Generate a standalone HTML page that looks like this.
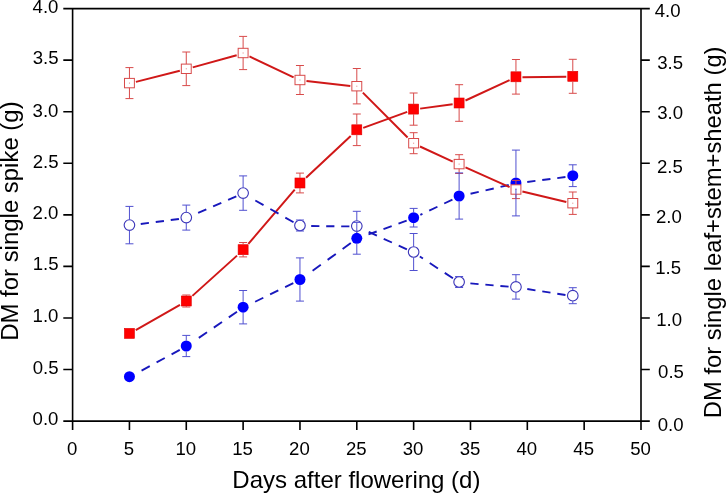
<!DOCTYPE html><html><head><meta charset="utf-8"><style>html,body{margin:0;padding:0;background:#fff;}svg{display:block;will-change:transform;}text{font-family:"Liberation Sans",sans-serif;fill:#000;}</style></head><body>
<svg width="726" height="493" viewBox="0 0 726 493">
<rect width="726" height="493" fill="#fff"/>
<g stroke="#000" stroke-width="1.6" fill="none" stroke-linecap="butt">
<path d="M63.30 8.6H649.80"/>
<path d="M72.6 8.6V430.1"/>
<path d="M641.0 8.6V430.1"/>
<path d="M63.30 421.1H649.80"/>
<path d="M63.30 369.54H72.6M641.0 369.54H649.80M63.30 317.98H72.6M641.0 317.98H649.80M63.30 266.41H72.6M641.0 266.41H649.80M63.30 214.85H72.6M641.0 214.85H649.80M63.30 163.29H72.6M641.0 163.29H649.80M63.30 111.73H72.6M641.0 111.73H649.80M63.30 60.16H72.6M641.0 60.16H649.80M129.44 421.1V430.1M186.28 421.1V430.1M243.12 421.1V430.1M299.96 421.1V430.1M356.80 421.1V430.1M413.64 421.1V430.1M470.48 421.1V430.1M527.32 421.1V430.1M584.16 421.1V430.1"/>
</g>
<g font-size="18.6">
<text x="32.57" y="425.25">0.0</text>
<text x="657.67" y="431.25">0.0</text>
<text x="32.63" y="373.55">0.5</text>
<text x="658.10" y="378.05">0.5</text>
<text x="32.57" y="321.90">1.0</text>
<text x="656.23" y="326.05">1.0</text>
<text x="32.63" y="270.21">1.5</text>
<text x="655.21" y="273.71">1.5</text>
<text x="32.57" y="219.35">2.0</text>
<text x="655.97" y="223.30">2.0</text>
<text x="32.63" y="167.70">2.5</text>
<text x="657.00" y="173.00">2.5</text>
<text x="32.57" y="116.50">3.0</text>
<text x="657.18" y="119.20">3.0</text>
<text x="32.63" y="64.35">3.5</text>
<text x="657.21" y="68.90">3.5</text>
<text x="32.57" y="12.70">4.0</text>
<text x="654.72" y="16.50">4.0</text>
<text x="72.10" y="454.8" text-anchor="middle">0</text>
<text x="128.94" y="454.8" text-anchor="middle">5</text>
<text x="185.78" y="454.8" text-anchor="middle">10</text>
<text x="242.62" y="454.8" text-anchor="middle">15</text>
<text x="299.46" y="454.8" text-anchor="middle">20</text>
<text x="356.30" y="454.8" text-anchor="middle">25</text>
<text x="413.14" y="454.8" text-anchor="middle">30</text>
<text x="469.98" y="454.8" text-anchor="middle">35</text>
<text x="526.82" y="454.8" text-anchor="middle">40</text>
<text x="583.66" y="454.8" text-anchor="middle">45</text>
<text x="640.50" y="454.8" text-anchor="middle">50</text>
</g>
<text x="356.4" y="487.5" font-size="24" text-anchor="middle">Days after flowering (d)</text>
<text transform="translate(17.5 221.1) rotate(-90)" x="0" y="0" font-size="23.95" text-anchor="middle">DM for single spike (g)</text>
<text transform="translate(720.5 232.3) rotate(-90)" x="0" y="0" font-size="23.8" text-anchor="middle">DM for single leaf+stem+sheath (g)</text>
<path d="M135.74 330.21L179.98 304.99M192.39 295.88L237.01 255.62M248.35 243.96L294.73 189.54M306.06 177.70L350.70 135.90M363.21 127.87L407.23 111.83M420.13 108.63L452.63 104.27M465.47 100.47L509.59 80.13M522.45 77.14L566.29 76.76" stroke="#d01818" stroke-width="2" fill="none"/>
<rect x="124.44" y="328.40" width="10" height="10" fill="#ff0000" stroke="#e00000" stroke-width="0.6"/><rect x="181.28" y="296.00" width="10" height="10" fill="#ff0000" stroke="#e00000" stroke-width="0.6"/><rect x="238.12" y="244.70" width="10" height="10" fill="#ff0000" stroke="#e00000" stroke-width="0.6"/><rect x="294.96" y="178.00" width="10" height="10" fill="#ff0000" stroke="#e00000" stroke-width="0.6"/><rect x="351.80" y="124.80" width="10" height="10" fill="#ff0000" stroke="#e00000" stroke-width="0.6"/><rect x="408.64" y="104.10" width="10" height="10" fill="#ff0000" stroke="#e00000" stroke-width="0.6"/><rect x="454.11" y="98.00" width="10" height="10" fill="#ff0000" stroke="#e00000" stroke-width="0.6"/><rect x="510.95" y="71.80" width="10" height="10" fill="#ff0000" stroke="#e00000" stroke-width="0.6"/><rect x="567.79" y="71.30" width="10" height="10" fill="#ff0000" stroke="#e00000" stroke-width="0.6"/>
<g stroke="#d84a4a" stroke-width="1" fill="none"><path d="M186.28 295.00V296.00M186.28 306.00V307.00" /><path d="M182.28 295.00h8M182.28 307.00h8" /><path d="M243.12 242.50V244.70M243.12 254.70V256.90" /><path d="M239.12 242.50h8M239.12 256.90h8" /><path d="M299.96 173.10V178.00M299.96 188.00V192.90" /><path d="M295.96 173.10h8M295.96 192.90h8" /><path d="M356.80 114.00V124.80M356.80 134.80V145.60" /><path d="M352.80 114.00h8M352.80 145.60h8" /><path d="M413.64 93.00V104.10M413.64 114.10V125.20" /><path d="M409.64 93.00h8M409.64 125.20h8" /><path d="M459.11 84.70V98.00M459.11 108.00V121.30" /><path d="M455.11 84.70h8M455.11 121.30h8" /><path d="M515.95 59.50V71.80M515.95 81.80V94.10" /><path d="M511.95 59.50h8M511.95 94.10h8" /><path d="M572.79 59.30V71.30M572.79 81.30V93.30" /><path d="M568.79 59.30h8M568.79 93.30h8" /></g>
<g stroke="#1818bc" stroke-width="1.9" fill="none"><path d="M178.94 218.97L136.78 224.53" stroke-dasharray="8.27 6.86"/><path d="M236.32 196.43L193.08 215.07" stroke-dasharray="8.93 7.40"/><path d="M293.53 222.24L249.55 197.16" stroke-dasharray="9.44 7.83"/><path d="M349.40 226.42L307.36 225.98" stroke-dasharray="8.20 6.80"/><path d="M406.91 249.33L363.53 229.57" stroke-dasharray="9.01 7.47"/><path d="M452.94 278.32L419.82 256.48" stroke-dasharray="9.82 8.15"/><path d="M508.58 286.66L466.48 283.04" stroke-dasharray="8.23 6.83"/><path d="M565.48 294.97L523.26 288.43" stroke-dasharray="8.30 6.88"/></g>
<circle cx="129.44" cy="225.10" r="5.3" fill="#fff" stroke="#3a34b8" stroke-width="1.1"/><circle cx="186.28" cy="217.60" r="5.3" fill="#fff" stroke="#3a34b8" stroke-width="1.1"/><circle cx="243.12" cy="193.10" r="5.3" fill="#fff" stroke="#3a34b8" stroke-width="1.1"/><circle cx="299.96" cy="225.50" r="5.3" fill="#fff" stroke="#3a34b8" stroke-width="1.1"/><circle cx="356.80" cy="226.10" r="5.3" fill="#fff" stroke="#3a34b8" stroke-width="1.1"/><circle cx="413.64" cy="252.00" r="5.3" fill="#fff" stroke="#3a34b8" stroke-width="1.1"/><circle cx="459.11" cy="282.00" r="5.3" fill="#fff" stroke="#3a34b8" stroke-width="1.1"/><circle cx="515.95" cy="286.90" r="5.3" fill="#fff" stroke="#3a34b8" stroke-width="1.1"/><circle cx="572.79" cy="295.70" r="5.3" fill="#fff" stroke="#3a34b8" stroke-width="1.1"/>
<g stroke="#5050d0" stroke-width="1" fill="none"><path d="M129.44 206.40V219.70M129.44 230.50V243.80" /><path d="M125.44 206.40h8M125.44 243.80h8" /><path d="M186.28 205.10V212.20M186.28 223.00V230.10" /><path d="M182.28 205.10h8M182.28 230.10h8" /><path d="M243.12 175.90V187.70M243.12 198.50V210.30" /><path d="M239.12 175.90h8M239.12 210.30h8" /><path d="M299.96 220.00V220.10M299.96 230.90V231.00" /><path d="M295.96 220.00h8M295.96 231.00h8" /><path d="M356.80 211.30V220.70M356.80 231.50V240.90" /><path d="M352.80 211.30h8M352.80 240.90h8" /><path d="M413.64 233.50V246.60M413.64 257.40V270.50" /><path d="M409.64 233.50h8M409.64 270.50h8" /><path d="M459.11 276.50V276.60M459.11 287.40V287.50" /><path d="M455.11 276.50h8M455.11 287.50h8" /><path d="M515.95 274.70V281.50M515.95 292.30V299.10" /><path d="M511.95 274.70h8M511.95 299.10h8" /><path d="M572.79 287.70V290.30M572.79 301.10V303.70" /><path d="M568.79 287.70h8M568.79 303.70h8" /></g>
<g stroke="#1818bc" stroke-width="1.9" fill="none"><path d="M179.77 349.92L135.95 373.58" stroke-dasharray="9.32 7.73"/><path d="M237.01 311.77L192.39 342.23" stroke-dasharray="9.93 8.23"/><path d="M293.31 283.14L249.77 304.36" stroke-dasharray="9.12 7.56"/><path d="M350.81 243.04L305.95 275.56" stroke-dasharray="10.13 8.40"/><path d="M406.68 220.62L363.76 236.18" stroke-dasharray="8.72 7.23"/><path d="M452.43 199.59L420.32 214.91" stroke-dasharray="9.09 7.53"/><path d="M508.74 185.05L466.33 194.75" stroke-dasharray="8.41 6.98"/><path d="M565.45 177.04L523.29 182.46" stroke-dasharray="8.27 6.86"/></g>
<circle cx="129.44" cy="376.70" r="5.5" fill="#0000ff"/><circle cx="186.28" cy="346.00" r="5.5" fill="#0000ff"/><circle cx="243.12" cy="307.20" r="5.5" fill="#0000ff"/><circle cx="299.96" cy="279.50" r="5.5" fill="#0000ff"/><circle cx="356.80" cy="238.30" r="5.5" fill="#0000ff"/><circle cx="413.64" cy="217.70" r="5.5" fill="#0000ff"/><circle cx="459.11" cy="196.00" r="5.5" fill="#0000ff"/><circle cx="515.95" cy="183.00" r="5.5" fill="#0000ff"/><circle cx="572.79" cy="175.70" r="5.5" fill="#0000ff"/>
<path d="M135.89 81.88L179.83 70.82M192.73 67.41L236.67 55.19M249.47 56.42L293.61 77.38M306.45 81.11L350.31 85.89M362.85 92.66L407.59 137.54M420.00 146.52L452.75 161.58M465.48 167.35L509.58 187.05M522.41 191.46L566.33 202.04" stroke="#d01818" stroke-width="2" fill="none"/>
<rect x="124.49" y="78.40" width="9.9" height="9.4" fill="#fff" stroke="#d84a4a" stroke-width="1"/><rect x="128.94" y="82.60" width="1" height="1" fill="#e08080"/><rect x="181.33" y="64.10" width="9.9" height="9.4" fill="#fff" stroke="#d84a4a" stroke-width="1"/><rect x="185.78" y="68.30" width="1" height="1" fill="#e08080"/><rect x="238.17" y="48.30" width="9.9" height="9.4" fill="#fff" stroke="#d84a4a" stroke-width="1"/><rect x="242.62" y="52.50" width="1" height="1" fill="#e08080"/><rect x="295.01" y="75.30" width="9.9" height="9.4" fill="#fff" stroke="#d84a4a" stroke-width="1"/><rect x="299.46" y="79.50" width="1" height="1" fill="#e08080"/><rect x="351.85" y="81.50" width="9.9" height="9.4" fill="#fff" stroke="#d84a4a" stroke-width="1"/><rect x="356.30" y="85.70" width="1" height="1" fill="#e08080"/><rect x="408.69" y="138.50" width="9.9" height="9.4" fill="#fff" stroke="#d84a4a" stroke-width="1"/><rect x="413.14" y="142.70" width="1" height="1" fill="#e08080"/><rect x="454.16" y="159.40" width="9.9" height="9.4" fill="#fff" stroke="#d84a4a" stroke-width="1"/><rect x="458.61" y="163.60" width="1" height="1" fill="#e08080"/><rect x="511.00" y="184.80" width="9.9" height="9.4" fill="#fff" stroke="#d84a4a" stroke-width="1"/><rect x="515.45" y="189.00" width="1" height="1" fill="#e08080"/><rect x="567.84" y="198.50" width="9.9" height="9.4" fill="#fff" stroke="#d84a4a" stroke-width="1"/><rect x="572.29" y="202.70" width="1" height="1" fill="#e08080"/>
<g stroke="#d84a4a" stroke-width="1" fill="none"><path d="M129.44 67.60V78.40M129.44 87.80V98.60" /><path d="M125.44 67.60h8M125.44 98.60h8" /><path d="M186.28 52.00V64.10M186.28 73.50V85.60" /><path d="M182.28 52.00h8M182.28 85.60h8" /><path d="M243.12 36.40V48.30M243.12 57.70V69.60" /><path d="M239.12 36.40h8M239.12 69.60h8" /><path d="M299.96 65.50V75.30M299.96 84.70V94.50" /><path d="M295.96 65.50h8M295.96 94.50h8" /><path d="M356.80 68.50V81.50M356.80 90.90V103.90" /><path d="M352.80 68.50h8M352.80 103.90h8" /><path d="M413.64 132.70V138.50M413.64 147.90V153.70" /><path d="M409.64 132.70h8M409.64 153.70h8" /><path d="M459.11 154.70V159.40M459.11 168.80V173.50" /><path d="M455.11 154.70h8M455.11 173.50h8" /><path d="M515.95 180.40V184.80M515.95 194.20V198.60" /><path d="M511.95 180.40h8M511.95 198.60h8" /><path d="M572.79 192.00V198.50M572.79 207.90V214.40" /><path d="M568.79 192.00h8M568.79 214.40h8" /></g>
<g stroke="#5050d0" stroke-width="1" fill="none"><path d="M186.28 335.40V340.50M186.28 351.50V356.60" /><path d="M182.28 335.40h8M182.28 356.60h8" /><path d="M243.12 290.50V301.70M243.12 312.70V323.90" /><path d="M239.12 290.50h8M239.12 323.90h8" /><path d="M299.96 257.90V274.00M299.96 285.00V301.10" /><path d="M295.96 257.90h8M295.96 301.10h8" /><path d="M356.80 222.40V232.80M356.80 243.80V254.20" /><path d="M352.80 222.40h8M352.80 254.20h8" /><path d="M413.64 208.40V212.20M413.64 223.20V227.00" /><path d="M409.64 208.40h8M409.64 227.00h8" /><path d="M459.11 172.90V190.50M459.11 201.50V219.10" /><path d="M455.11 172.90h8M455.11 219.10h8" /><path d="M515.95 150.10V177.50M515.95 188.50V215.90" /><path d="M511.95 150.10h8M511.95 215.90h8" /><path d="M572.79 164.80V170.20M572.79 181.20V186.60" /><path d="M568.79 164.80h8M568.79 186.60h8" /></g>
</svg></body></html>
